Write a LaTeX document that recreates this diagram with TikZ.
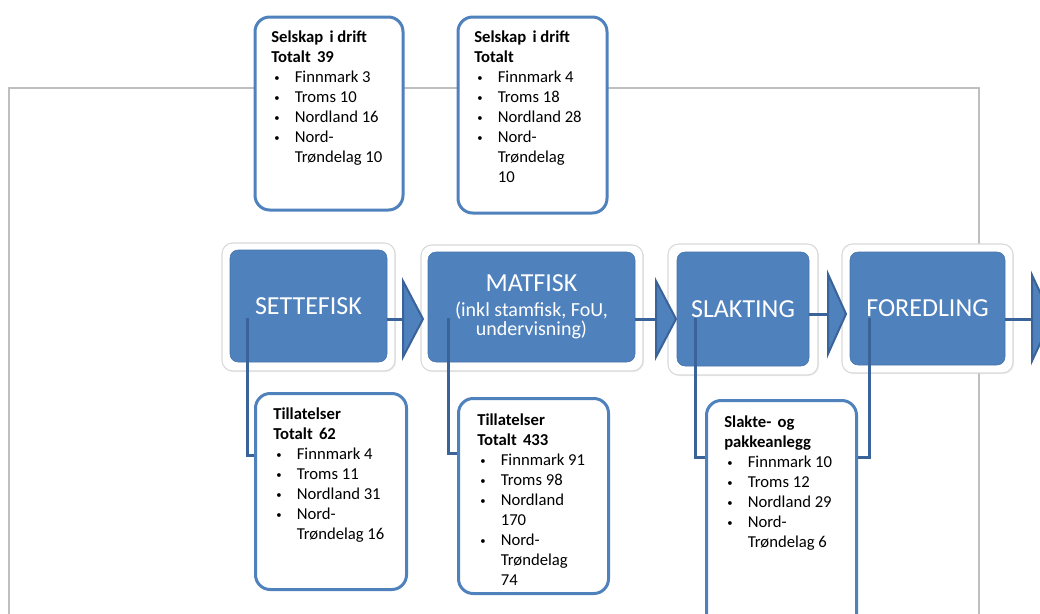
\documentclass[tikz,border=0pt]{standalone}
\usepackage{fontspec}
\setmainfont{Carlito}
\usetikzlibrary{shadows}
\definecolor{mainblue}{HTML}{4F81BD}
\definecolor{darkblue}{HTML}{3A6399}
\definecolor{infoborder}{HTML}{4F81BD}
\definecolor{framegray}{HTML}{BFBFBF}
\newcommand\bitem[1]{\hspace*{2.25pt}\makebox[15.4pt][l]{\raisebox{0.6pt}{\fontsize{8}{8}\selectfont •}}#1}
\newcommand\bcont[1]{\hspace*{17.65pt}#1}
\begin{document}
\begin{tikzpicture}[x=0.75pt,y=-0.75pt,
  outerbox/.style={draw=black!15, line width=0.8pt, fill=white, rounded corners=8pt,
    drop shadow={opacity=0.15, shadow xshift=0.8pt, shadow yshift=-0.8pt}, inner sep=0pt},
  bluebox/.style={fill=mainblue, draw=mainblue!90!black, line width=0.4pt, rounded corners=6pt,
    text=white, font=\fontsize{19.5}{14.25}\selectfont, align=center, inner sep=0pt},
  infobox/.style={draw=infoborder, line width=2.25pt, fill=white, rounded corners=11pt, inner sep=0pt},
  infotext/.style={anchor=north west, inner sep=0pt, align=left, font=\fontsize{12.5}{15}\selectfont},
  conn/.style={draw=darkblue, line width=2.25pt},
  chev/.style={fill=mainblue, draw=darkblue, line width=1.5pt, line join=miter}]
\useasboundingbox (0,0) rectangle (1040,614);
\clip (0,0) rectangle (1040,614);

% gray frame
\draw[framegray, line width=1.1pt] (9,640) -- (9,88) -- (979,88) -- (979,640);

% main boxes: outer frames
\node[outerbox, minimum width=129.75pt, minimum height=96pt] (setO) at (308.5,307) {};
\node[outerbox, minimum width=166.5pt, minimum height=94.5pt] (matO) at (532,308) {};
\node[outerbox, minimum width=112.5pt, minimum height=98.25pt] (slaO) at (743,309.5) {};
\node[outerbox, minimum width=128.25pt, minimum height=96.75pt] (forO) at (927.5,308.5) {};

% main boxes: blue
\node[bluebox, minimum width=117.75pt, minimum height=84pt] (set) at (308.5,306) {SETTEFISK};
\node[bluebox, minimum width=155.25pt, minimum height=82.5pt] (mat) at (531.5,307)
  {MATFISK\\[4.5pt]\fontsize{15}{14.25}\selectfont(inkl stamfisk, FoU,\\\fontsize{15}{14.25}\selectfont undervisning)};
\node[bluebox, minimum width=99pt, minimum height=85.5pt] (sla) at (743,309) {SLAKTING};
\node[bluebox, minimum width=116.25pt, minimum height=84.75pt] (for) at (927.5,308.5) {FOREDLING};

% connector start points and levels
\coordinate (c1) at (247,318);
\coordinate (c2) at (448,318);
\coordinate (c3) at (695,318);
\coordinate (c4) at (869,318);
\coordinate (h1) at (0,455);
\coordinate (h2) at (0,453);
\coordinate (h3) at (0,457);

% upper info boxes
\node[infobox, minimum width=111pt, minimum height=144.75pt] (t1) at (329,113.5) {};
\node[infobox, minimum width=111.75pt, minimum height=147pt] (t2) at (532.5,115) {};

% lower info boxes (placed, drawn later)
\node[infobox, minimum width=111pt, minimum height=144.75pt, draw=none, fill=none] (b1) at (331,491.5) {};
\node[infobox, minimum width=110.25pt, minimum height=144pt, draw=none, fill=none] (b2) at (533.5,496) {};
\node[infobox, minimum width=110.25pt, minimum height=178.5pt, draw=none, fill=none] (b3) at (781.5,521) {};
\draw[conn] (c1) |- (b1.west |- h1);
\draw[conn] (c2) |- (b2.west |- h2);
\draw[conn] (c3) |- (b3.west |- h3);
\draw[conn] (c4) |- (b3.east |- h3);

% chevron arrows
\coordinate (a1) at (403,319);
\coordinate (a2) at (656,319);
\coordinate (a3) at (828,314);
\coordinate (a4) at (1032,319);
\draw[conn] (set.east |- a1) -- (a1);
\draw[chev] (403,281) -- (423,319) -- (403,357) -- cycle;
\draw[conn] (mat.east |- a2) -- (a2);
\draw[chev] (656,281) -- (676,319) -- (656,357) -- cycle;
\draw[conn] (sla.east |- a3) -- (a3);
\draw[chev] (828,274) -- (846,314) -- (828,354) -- cycle;
\draw[conn] (for.east |- a4) -- (a4);
\draw[chev] (1032,275) -- (1052,318) -- (1032,361) -- cycle;

% lower info boxes drawn over connector ends
\draw[infobox] (b1.north west) rectangle (b1.south east);
\draw[infobox] (b2.north west) rectangle (b2.south east);
\draw[infobox] (b3.north west) rectangle (b3.south east);

% texts
\node[infotext] (t1txt) at (271,28) {\strut\textbf{Selskap\hspace{0.15em} i drift}\\
  \textbf{Totalt\hspace{0.15em} 39}\\
  \bitem{Finnmark 3}\\ \bitem{Troms 10}\\ \bitem{Nordland 16}\\ \bitem{Nord-}\\ \bcont{Trøndelag 10}};
\node[infotext] (t2txt) at (474,28) {\strut\textbf{Selskap\hspace{0.15em} i drift}\\
  \textbf{Totalt}\\
  \bitem{Finnmark 4}\\ \bitem{Troms 18}\\ \bitem{Nordland 28}\\ \bitem{Nord-}\\ \bcont{Trøndelag}\\ \bcont{10}};
\node[infotext] (b1txt) at (273,405) {\strut\textbf{Tillatelser}\\
  \textbf{Totalt\hspace{0.15em} 62}\\
  \bitem{Finnmark 4}\\ \bitem{Troms 11}\\ \bitem{Nordland 31}\\ \bitem{Nord-}\\ \bcont{Trøndelag 16}};
\node[infotext] (b2txt) at (477,411) {\strut\textbf{Tillatelser}\\
  \textbf{Totalt\hspace{0.15em} 433}\\
  \bitem{Finnmark 91}\\ \bitem{Troms 98}\\ \bitem{Nordland}\\ \bcont{170}\\ \bitem{Nord-}\\ \bcont{Trøndelag}\\ \bcont{74}};
\node[infotext] (b3txt) at (724,413) {\strut\textbf{Slakte-\hspace{0.15em} og}\\
  \textbf{pakkeanlegg}\\
  \bitem{Finnmark 10}\\ \bitem{Troms 12}\\ \bitem{Nordland 29}\\ \bitem{Nord-}\\ \bcont{Trøndelag 6}};
\end{tikzpicture}
\end{document}
